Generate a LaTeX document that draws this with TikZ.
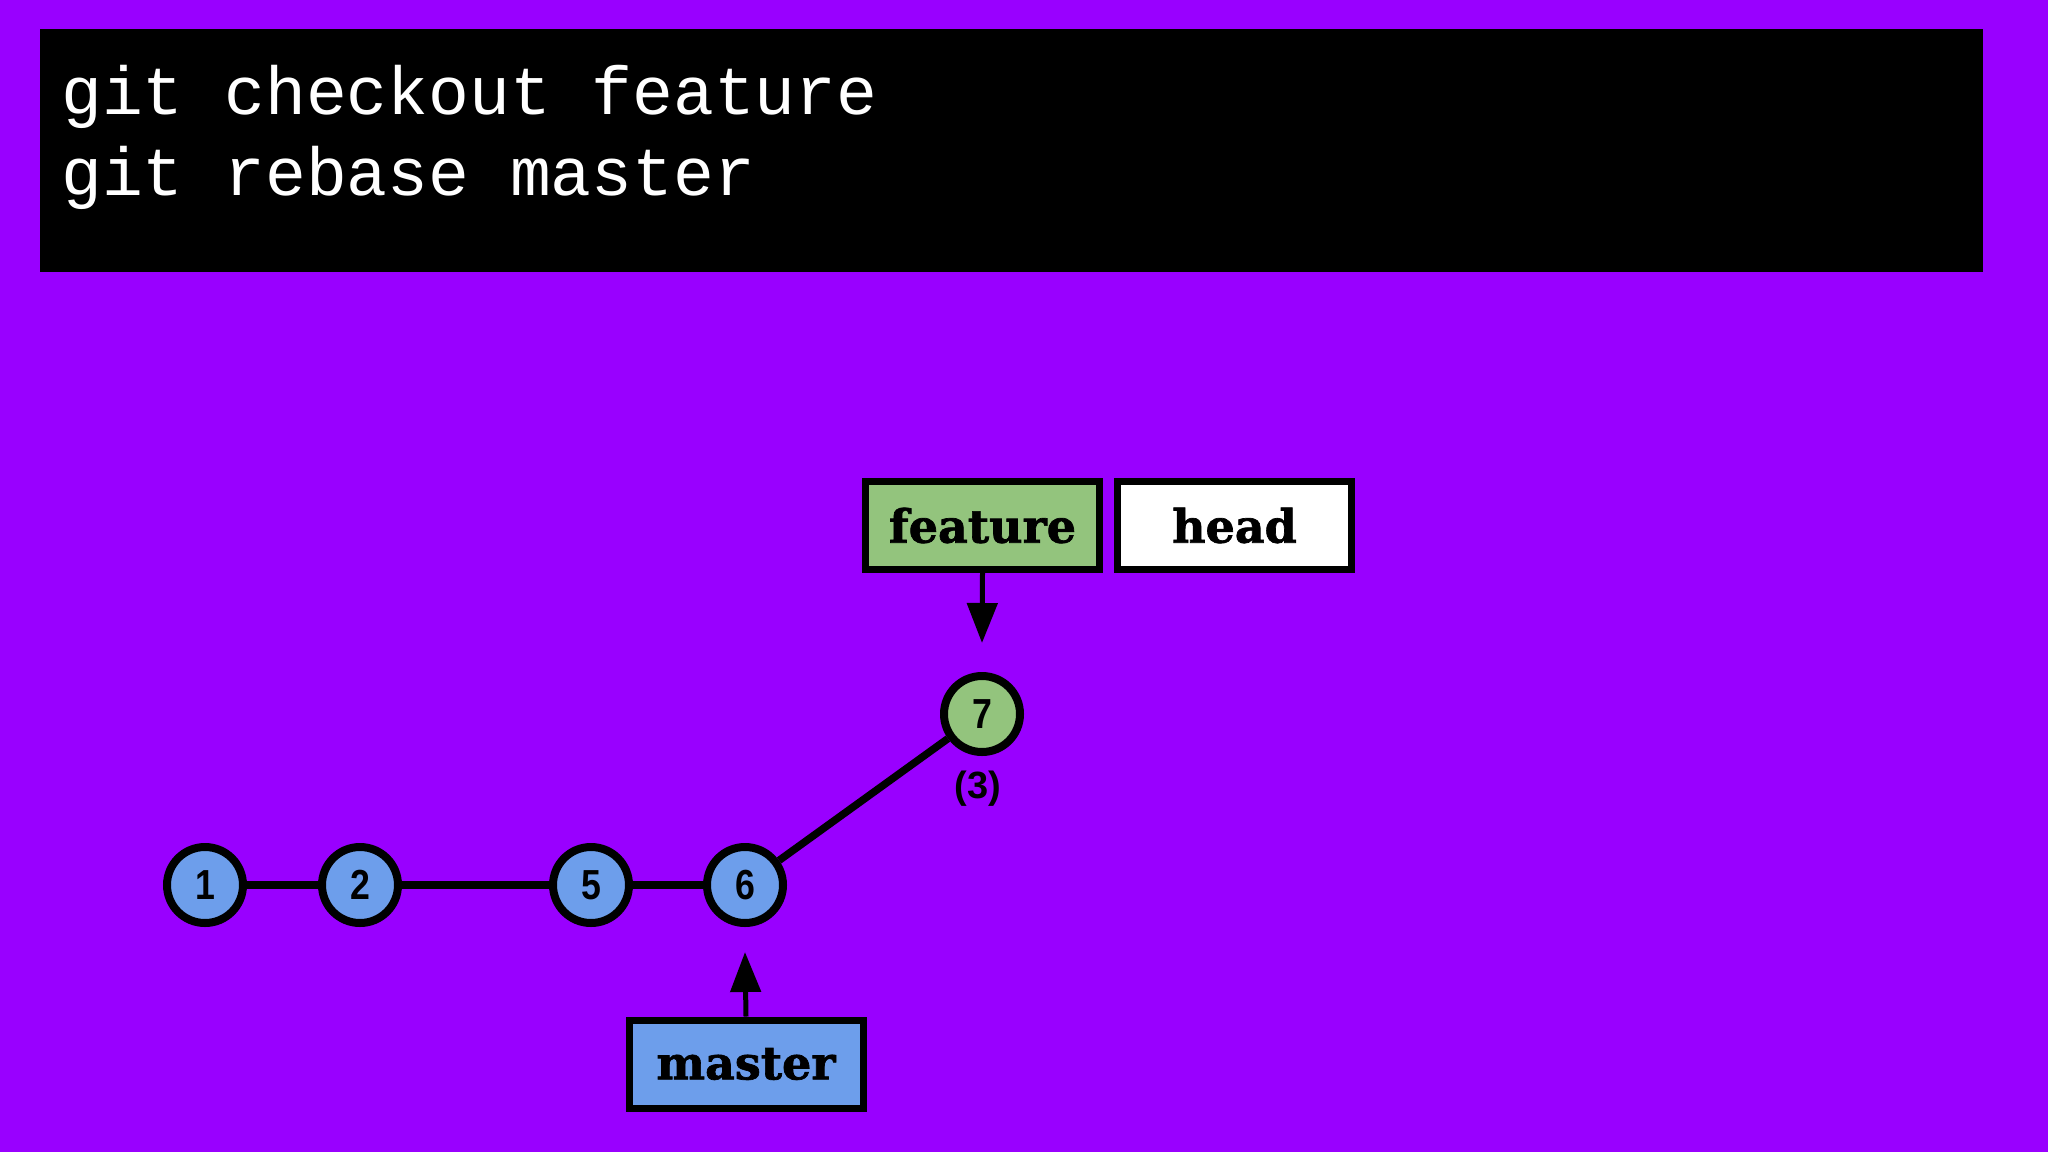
\documentclass[tikz,border=0pt]{standalone}
\usepackage{fontspec}
\setmainfont{Liberation Sans}
\newfontfamily\monofont{Liberation Mono}
\newfontfamily\labelfont[FakeBold=1.5]{DejaVu Serif Bold}
\newfontfamily\numfont[FakeStretch=0.85]{Liberation Sans Bold}
\newfontfamily\subfont{Liberation Sans Bold}
\usetikzlibrary{arrows.meta}
\definecolor{bgpurple}{HTML}{9900FF}
\definecolor{cblue}{HTML}{6D9EEB}
\definecolor{cgreen}{HTML}{93C47D}
\tikzset{
  commit/.style={circle, draw=black, line width=8pt, minimum size=76pt, inner sep=0pt,
    font=\numfont\fontsize{42}{42}\selectfont},
  bluec/.style={commit, fill=cblue},
  greenc/.style={commit, fill=cgreen},
  refbox/.style={draw=black, line width=7pt, minimum width=234pt, minimum height=88pt,
    inner sep=0pt, font=\labelfont\fontsize{46}{46}\selectfont},
  edge/.style={line width=7.5pt, draw=black},
  ptr/.style={line width=5pt, draw=black, -{Triangle[length=40pt,width=30pt]}},
  cmd/.style={anchor=base west, text=white, inner sep=0pt,
    font=\monofont\fontsize{68}{68}\selectfont}
}
\begin{document}
\begin{tikzpicture}[x=1pt,y=-1pt]
\fill[bgpurple] (0,0) rectangle (2048,1152);
\useasboundingbox (0,0) rectangle (2048,1152);
\fill[black] (40,29) rectangle (1983,272);
\node[cmd] (l1) at (61,114) {git checkout feature};
\node[cmd] (l2) at (61,195) {git rebase master};

\node[bluec] (c1) at (205,885) {1};
\node[bluec] (c2) at (360,885) {2};
\node[bluec] (c5) at (591,885) {5};
\node[bluec] (c6) at (745,885) {6};
\node[greenc] (c7) at (982,714) {7};
\node[font=\subfont\fontsize{38}{38}\selectfont, inner sep=0pt] (lab3) at (978,789) {(3)};

\draw[edge] (c1) -- (c2);
\draw[edge] (c2) -- (c5);
\draw[edge] (c5) -- (c6);
\draw[edge] (c6) -- (c7);

\node[refbox, fill=cgreen] (feat) at (982.5,525.5) {feature};
\node[refbox, fill=white] (head) at (1234.5,525.5) {head};
\node[refbox, fill=cblue] (mast) at (746,1064) {master};

\coordinate (t7) at (982,643);
\coordinate (t6) at (745,952);
\draw[ptr] (feat.south) -- (t7);
\draw[ptr] (mast.north) -- (t6);
\end{tikzpicture}
\end{document}
